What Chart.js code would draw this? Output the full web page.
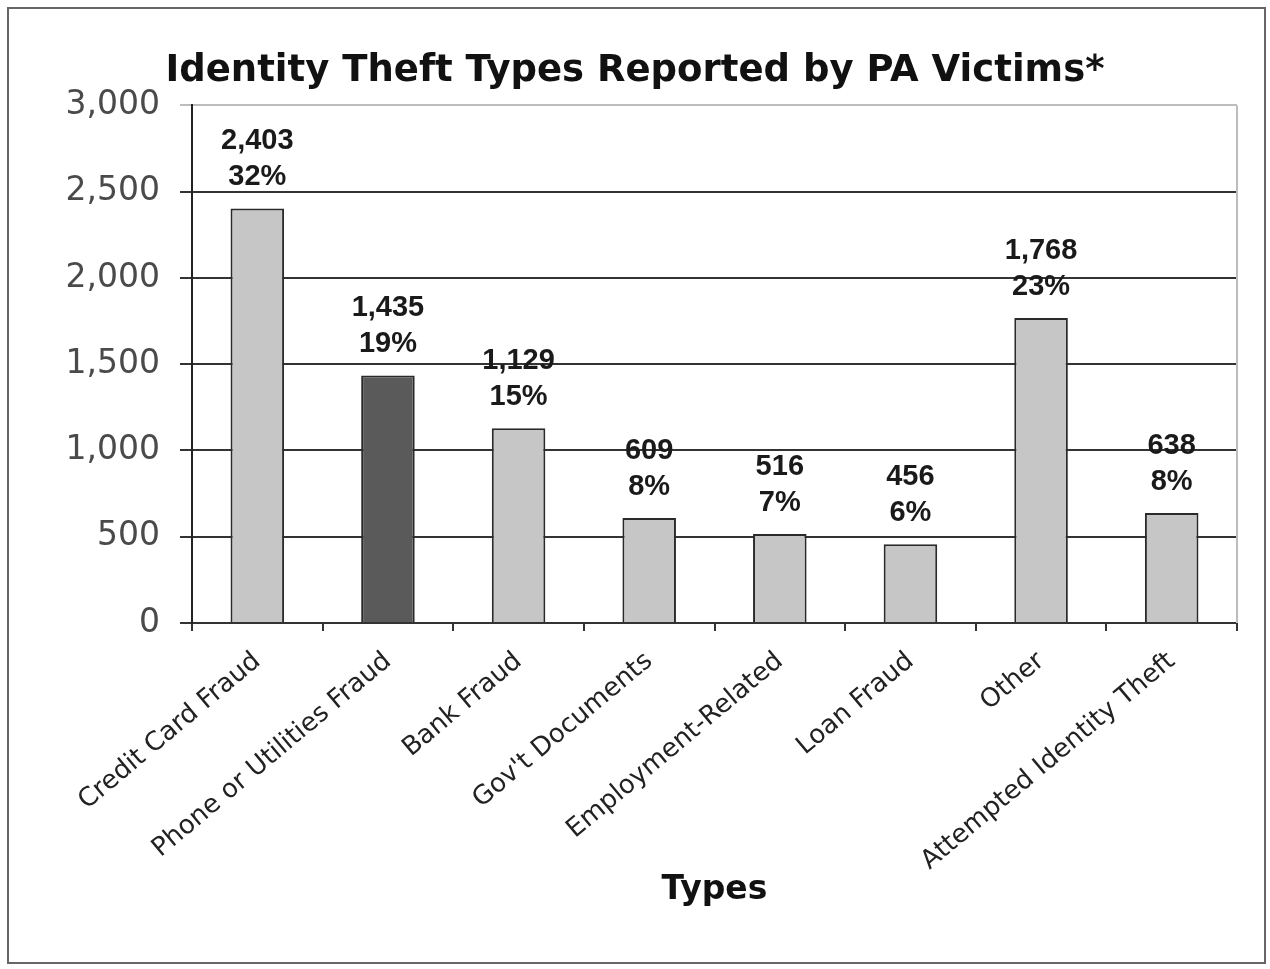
<!DOCTYPE html>
<html>
<head>
<meta charset="utf-8">
<script src="https://cdn.jsdelivr.net/npm/chart.js@4.4.1/dist/chart.umd.min.js"></script>
<style>
  html, body { margin: 0; padding: 0; background: #fff; }
  #wrap { position: relative; width: 1270px; height: 969px; }
  #frame { position: absolute; left: 7px; top: 7px; width: 1259px; height: 957px; border: 2px solid #666; box-sizing: border-box; pointer-events: none; }
</style>
</head>
<body>
<div id="wrap">
  <canvas id="c" width="1270" height="969"></canvas>
  <div id="frame"></div>
</div>
<script>
const titleText = 'Identity Theft Types Reported by PA Victims*';
const axisTitle = 'Types';
const categories = ['Credit Card Fraud', 'Phone or Utilities Fraud', 'Bank Fraud', "Gov't Documents", 'Employment-Related', 'Loan Fraud', 'Other', 'Attempted Identity Theft'];
const counts = [2403, 1435, 1129, 609, 516, 456, 1768, 638];
const percents = [32, 19, 15, 8, 7, 6, 23, 8];
const barColors = ['#c6c6c6', '#5a5a5a', '#c6c6c6', '#c6c6c6', '#c6c6c6', '#c6c6c6', '#c6c6c6', '#c6c6c6'];

const barLabels = {
  id: 'barLabels',
  afterDatasetsDraw(chart) {
    const ctx = chart.ctx;
    const meta = chart.getDatasetMeta(0);
    ctx.save();
    ctx.font = 'bold 29px "Liberation Sans", Arial, sans-serif';
    ctx.fillStyle = '#1a1a1a';
    ctx.textAlign = 'center';
    ctx.textBaseline = 'middle';
    meta.data.forEach((bar, i) => {
      ctx.fillText(counts[i].toLocaleString('en-US'), bar.x, bar.y - 67);
      ctx.fillText(percents[i] + '%', bar.x, bar.y - 31);
    });
    ctx.restore();
  }
};

const plotFrame = {
  id: 'plotFrame',
  beforeDatasetsDraw(chart) {
    const { ctx, chartArea: a } = chart;
    ctx.save();
    ctx.strokeStyle = '#bdbdbd';
    ctx.lineWidth = 2;
    ctx.beginPath();
    ctx.moveTo(a.right, a.top);
    ctx.lineTo(a.right, a.bottom);
    ctx.stroke();
    ctx.restore();
  }
};

new Chart(document.getElementById('c'), {
  type: 'bar',
  data: {
    labels: categories,
    datasets: [{
      data: counts,
      backgroundColor: barColors,
      borderColor: '#2a2a2a',
      borderWidth: 2,
      categoryPercentage: 1,
      barPercentage: 0.41
    }]
  },
  options: {
    responsive: false,
    animation: false,
    devicePixelRatio: 1,
    layout: { padding: { left: 33, right: 33, top: 0, bottom: 50 } },
    plugins: {
      legend: { display: false },
      tooltip: { enabled: false },
      title: {
        display: true,
        text: titleText,
        color: '#111',
        font: { family: 'DejaVu Sans', weight: 'bold', size: 37 },
        padding: { top: 49, bottom: 12 }
      }
    },
    scales: {
      x: {
        offset: true,
        grid: { offset: true, drawOnChartArea: false, drawTicks: true, tickLength: 8, color: '#333', lineWidth: 2 },
        border: { color: '#333', width: 2 },
        ticks: {
          autoSkip: false, minRotation: 40, maxRotation: 40,
          font: { family: 'DejaVu Sans', size: 26 }, color: '#222', padding: 15
        },
        title: {
          display: true, text: axisTitle, color: '#111',
          font: { family: 'DejaVu Sans', weight: 'bold', size: 33 },
          padding: { top: 0, bottom: 9 }
        },
        afterFit: s => { s.height = 296; }
      },
      y: {
        min: 0, max: 3000,
        ticks: {
          stepSize: 500,
          font: { family: 'DejaVu Sans', size: 33 }, color: '#4a4a4a', padding: 20,
          callback: v => v.toLocaleString('en-US')
        },
        grid: {
          color: ctx => (ctx.tick && ctx.tick.value === 3000) ? '#bdbdbd' : '#333',
          lineWidth: 2, tickLength: 12
        },
        border: { color: '#222', width: 2 },
        afterFit: s => { s.width = 159; }
      }
    }
  },
  plugins: [plotFrame, barLabels]
});
</script>
</body>
</html>
